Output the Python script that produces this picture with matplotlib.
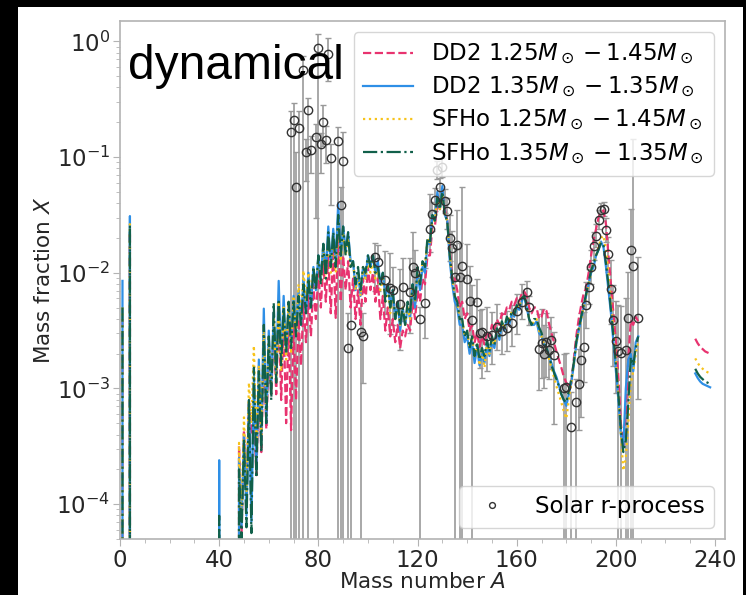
import numpy as np
import matplotlib.pyplot as plt
from matplotlib.patches import Rectangle
from matplotlib.ticker import MultipleLocator, LogLocator

# ---- model yields (log10 of mass fraction) ----
# light nuclei: A = 1, 4, 40 (None = no yield)
light_A = [1, 4, 40]
dd2_125_light = [-2.40, -1.65, None]
dd2_135_light = [-2.07, -1.51, -3.62]
sfho_125_light = [-2.30, -1.58, None]
sfho_135_light = [-2.30, -1.59, -4.10]

# A = 48 ... 209
dd2_125_main = [
    -3.50, -4.30, -3.36, -4.00, -3.10, -3.40, -3.20, -3.75, -2.95, -3.55,
    -2.60, -3.35, -2.70, -3.05, -2.45, -3.05, -2.30, -3.10, -2.40, -3.30,
    -2.40, -3.36, -2.45, -3.10, -2.40, -2.80, -2.25, -2.60, -2.20, -2.55,
    -2.10, -2.40, -2.00, -2.30, -1.90, -2.25, -1.85, -2.35, -1.80, -2.39,
    -1.65, -2.25, -1.85, -2.15, -1.90, -2.30, -2.05, -2.40, -2.15, -2.45,
    -2.05, -2.25, -1.95, -2.15, -2.00, -2.25, -2.05, -2.40, -2.20, -2.50,
    -2.30, -2.55, -2.40, -2.60, -2.45, -2.65, -2.50, -2.55, -2.45, -2.50,
    -2.25, -2.40, -2.15, -2.25, -2.05, -2.10, -1.85, -1.85, -1.60, -1.60,
    -1.40, -1.45, -1.30, -1.45, -1.55, -1.80, -2.05, -2.05, -2.15, -2.30,
    -2.25, -2.40, -2.35, -2.50, -2.45, -2.60, -2.52, -2.64, -2.55, -2.62,
    -2.50, -2.55, -2.45, -2.50, -2.40, -2.45, -2.35, -2.38, -2.30, -2.32,
    -2.25, -2.28, -2.22, -2.25, -2.18, -2.16, -2.20, -2.30, -2.35, -2.30,
    -2.30, -2.40, -2.38, -2.31, -2.33, -2.44, -2.52, -2.60, -2.68, -2.75,
    -2.82, -2.90, -2.95, -2.98, -2.96, -2.75, -2.55, -2.40, -2.28, -2.18,
    -2.13, -2.00, -1.85, -1.72, -1.62, -1.52, -1.48, -1.46, -1.58, -1.85,
    -2.10, -2.35, -2.60, -2.90, -3.30, -3.50, -3.20, -2.75, -2.41, -2.45,
    -2.38, -2.42,
]
dd2_135_main = [
    -3.60, -4.20, -3.40, -4.10, -3.10, -4.15, -2.90, -3.70, -2.75, -3.45,
    -2.31, -3.30, -2.50, -3.00, -2.35, -2.90, -2.07, -2.75, -2.20, -2.70,
    -2.30, -2.60, -2.20, -2.50, -2.15, -2.45, -2.05, -2.35, -2.00, -2.30,
    -1.95, -2.15, -1.85, -2.05, -1.75, -2.00, -1.60, -1.95, -1.62, -1.90,
    -1.40, -1.85, -1.60, -1.80, -1.65, -1.90, -1.90, -2.15, -2.00, -2.20,
    -1.95, -2.05, -1.85, -1.95, -1.85, -2.00, -1.90, -2.10, -2.00, -2.20,
    -2.10, -2.30, -2.15, -2.40, -2.25, -2.50, -2.30, -2.45, -2.30, -2.40,
    -2.10, -2.30, -2.00, -2.15, -1.95, -2.00, -1.75, -1.75, -1.50, -1.55,
    -1.30, -1.45, -1.25, -1.50, -1.55, -1.90, -2.10, -2.25, -2.30, -2.45,
    -2.45, -2.60, -2.55, -2.70, -2.60, -2.78, -2.65, -2.80, -2.70, -2.78,
    -2.62, -2.72, -2.60, -2.65, -2.50, -2.58, -2.45, -2.50, -2.40, -2.45,
    -2.35, -2.38, -2.30, -2.32, -2.25, -2.20, -2.30, -2.40, -2.45, -2.45,
    -2.42, -2.52, -2.55, -2.62, -2.65, -2.72, -2.78, -2.85, -2.90, -2.97,
    -3.05, -3.10, -3.15, -3.05, -2.95, -2.80, -2.62, -2.50, -2.40, -2.30,
    -2.20, -2.10, -2.00, -1.95, -1.85, -1.80, -1.73, -1.78, -1.95, -2.15,
    -2.35, -2.60, -2.85, -3.10, -3.40, -3.50, -3.00, -2.75, -2.70, -2.85,
    -2.60, -2.55,
]
sfho_125_main = [
    -3.47, -4.10, -3.25, -3.90, -2.95, -3.30, -2.63, -3.50, -2.80, -3.40,
    -2.45, -3.20, -2.55, -3.00, -2.40, -2.95, -2.25, -2.85, -2.30, -2.75,
    -2.25, -2.70, -2.20, -2.55, -2.10, -2.40, -1.98, -2.25, -2.00, -2.20,
    -1.95, -2.15, -1.85, -2.10, -1.80, -2.05, -1.70, -2.00, -1.70, -2.00,
    -1.55, -1.90, -1.65, -1.85, -1.70, -1.95, -1.90, -2.15, -2.00, -2.20,
    -1.95, -2.05, -1.90, -2.00, -1.90, -2.05, -1.95, -2.15, -2.05, -2.25,
    -2.15, -2.35, -2.20, -2.40, -2.30, -2.45, -2.30, -2.45, -2.30, -2.40,
    -2.10, -2.25, -2.00, -2.10, -1.90, -1.95, -1.70, -1.75, -1.55, -1.55,
    -1.35, -1.45, -1.32, -1.50, -1.55, -1.85, -2.05, -2.20, -2.25, -2.40,
    -2.40, -2.55, -2.50, -2.65, -2.55, -2.72, -2.62, -2.80, -2.68, -2.82,
    -2.60, -2.70, -2.58, -2.62, -2.50, -2.55, -2.42, -2.48, -2.38, -2.42,
    -2.33, -2.36, -2.28, -2.30, -2.22, -2.20, -2.28, -2.40, -2.45, -2.42,
    -2.40, -2.50, -2.55, -2.62, -2.66, -2.74, -2.82, -2.90, -2.98, -3.05,
    -3.12, -3.20, -3.26, -3.10, -2.95, -2.80, -2.62, -2.50, -2.40, -2.30,
    -2.20, -2.10, -2.00, -1.93, -1.85, -1.78, -1.70, -1.68, -1.80, -2.00,
    -2.25, -2.50, -2.75, -3.05, -3.40, -3.71, -3.60, -3.30, -2.95, -2.85,
    -2.70, -2.60,
]
sfho_135_main = [
    -3.70, -4.30, -3.45, -4.20, -3.10, -4.25, -2.82, -3.77, -2.85, -3.55,
    -2.45, -3.30, -2.55, -3.10, -2.26, -2.95, -2.25, -2.80, -2.30, -2.70,
    -2.25, -2.65, -2.25, -2.55, -2.20, -2.45, -2.10, -2.35, -2.05, -2.30,
    -1.95, -2.15, -1.85, -2.10, -1.75, -2.05, -1.65, -1.95, -1.65, -1.95,
    -1.50, -1.85, -1.60, -1.85, -1.65, -1.95, -1.90, -2.10, -1.95, -2.15,
    -1.95, -2.00, -1.85, -1.95, -1.85, -2.00, -1.95, -2.10, -2.00, -2.25,
    -2.10, -2.30, -2.15, -2.40, -2.25, -2.45, -2.30, -2.45, -2.25, -2.35,
    -2.10, -2.25, -1.95, -2.10, -1.90, -1.95, -1.70, -1.75, -1.50, -1.55,
    -1.35, -1.45, -1.30, -1.50, -1.55, -1.85, -2.05, -2.20, -2.25, -2.40,
    -2.40, -2.55, -2.50, -2.65, -2.55, -2.72, -2.60, -2.75, -2.65, -2.72,
    -2.58, -2.68, -2.55, -2.62, -2.48, -2.55, -2.42, -2.48, -2.38, -2.42,
    -2.33, -2.36, -2.28, -2.30, -2.22, -2.20, -2.28, -2.40, -2.45, -2.40,
    -2.40, -2.47, -2.52, -2.60, -2.65, -2.72, -2.80, -2.86, -2.92, -2.98,
    -3.05, -3.10, -3.12, -3.02, -2.92, -2.78, -2.60, -2.48, -2.38, -2.28,
    -2.18, -2.08, -1.98, -1.92, -1.85, -1.80, -1.74, -1.76, -1.92, -2.10,
    -2.32, -2.55, -2.80, -3.05, -3.35, -3.55, -3.45, -3.13, -2.73, -2.80,
    -2.65, -2.55,
]

# actinides A = 232 ... 238
actinide_A = [232, 233, 234, 235, 236, 237, 238]
dd2_125_act = [-2.57, -2.61, -2.64, -2.66, -2.68, -2.69, -2.70]
dd2_135_act = [-2.87, -2.91, -2.94, -2.96, -2.97, -2.98, -2.99]
sfho_125_act = [-2.74, -2.78, -2.81, -2.83, -2.85, -2.86, -2.87]
sfho_135_act = [-2.83, -2.87, -2.90, -2.92, -2.94, -2.95, -2.96]

# ---- solar r-process residuals ----
solar_A = [69, 70, 71, 72, 74, 75, 76, 77, 79, 80, 81, 82, 83, 84, 85, 88, 89, 90,
           92, 93, 97, 98, 103, 104, 107, 109, 110, 113, 114, 117, 118, 119, 121,
           123, 125, 126, 127, 128, 129, 130, 131, 132, 133, 134, 135, 136, 137,
           138, 140, 141, 142, 144, 145, 146, 148, 150, 152, 154, 156, 158, 160,
           162, 164, 165, 169, 170, 171, 172, 173, 174, 175, 179, 180, 182, 184,
           185, 186, 187, 188, 189, 190, 191, 192, 193, 194, 195, 196, 197, 198,
           199, 200, 201, 202, 204, 205, 206, 207, 209]
solar_logX = [-0.78, -0.68, -1.26, -0.75, -0.25, -0.96, -0.59, -0.94, -0.83, -0.06,
              -0.89, -0.70, -0.85, -0.11, -1.01, -0.86, -1.41, -1.03,
              -2.65, -2.45, -2.51, -2.55, -1.86, -1.91, -2.06, -2.13, -2.15, -2.27,
              -2.12, -2.17, -1.95, -2.00, -2.40,
              -2.26, -1.62, -1.49, -1.37, -1.11, -1.26, -1.09, -1.38, -1.47, -1.70,
              -1.79, -2.04, -1.76, -2.04,
              -1.94, -2.05, -2.24, -2.41, -2.25, -2.52, -2.51, -2.55, -2.54, -2.47,
              -2.50, -2.48, -2.43, -2.33,
              -2.25, -2.17, -2.30, -2.66, -2.61, -2.70, -2.60, -2.67, -2.58, -2.71,
              -3.00, -2.99, -3.33, -3.12,
              -2.96, -2.75, -2.64, -2.28, -2.12, -1.95, -1.77, -1.68, -1.54, -1.46,
              -1.45, -1.63, -1.84, -2.14,
              -2.41, -2.59, -2.68, -2.69, -2.67, -2.39, -1.80, -1.94, -2.39]
inf = np.inf
solar_err_up = [0.18, 0.15, 0.30, 0.15, 0.12, 0.12, 0.10, 0.12, 0.12, 0.12,
                0.10, 0.15, 0.12, 0.14, 0.12, 0.12, 0.15, 0.25,
                0.30, 0.30, 0.25, 0.20, 0.12, 0.15, 0.25, 0.30, 0.20, 0.30,
                0.25, 0.30, 0.30, 0.20, 0.10,
                0.30, 0.30, 0.10, 0.10, 0.08, 0.08, 0.08, 0.10, 0.12, 0.20,
                0.15, 0.25, 0.30, 0.30,
                0.68, 0.30, 0.30, 0.30, 0.20, 0.20, 0.20, 0.25, 0.20, 0.20,
                0.15, 0.15, 0.15, 0.15,
                0.15, 0.10, 0.10, 0.30, 0.30, 0.25, 0.25, 0.20, 0.20, 0.20,
                0.30, 0.30, 0.30, 0.20,
                0.30, 0.40, 0.30, 0.20, 0.15, 0.15, 0.12, 0.10, 0.08, 0.06,
                0.06, 0.10, 0.15, 0.25,
                0.30, 0.35, 0.40, 0.40, 0.45, 0.40, 0.35, 1.10, 0.53]
solar_err_lo = [inf, inf, inf, inf, inf, 0.25, inf, 0.20, 0.70, inf,
                0.25, 0.20, 0.20, 0.23, 0.40, inf, inf, inf,
                inf, inf, inf, 0.40, 0.30, 0.25, 0.30, 0.40, 0.30, 0.40,
                0.30, 0.35, 0.30, 0.20, inf,
                0.30, 0.20, 0.15, 0.10, 0.08, 0.08, 0.08, 0.10, 0.15, 0.20,
                0.25, inf, 0.30, inf,
                inf, 0.30, 0.30, inf, 0.30, 0.30, 0.40, 0.30, 0.25, 0.20,
                0.20, 0.20, 0.20, 0.20,
                0.15, 0.10, 0.15, 0.35, 0.30, 0.30, 0.30, 0.25, 0.25, 0.60,
                inf, inf, inf, inf,
                0.40, 0.50, 0.30, 0.20, 0.15, 0.15, 0.12, 0.10, 0.08, 0.06,
                0.06, 0.10, 0.15, 0.30,
                0.40, 0.45, inf, inf, inf, inf, inf, inf, 0.70]


def build_series(light, main, act):
    # full A grid: zero where nothing is produced, gap between 210 and 231
    A = np.arange(1, 239)
    X = np.zeros(len(A))
    X[(A >= 210) & (A < 232)] = np.nan
    for a, v in zip(light_A, light):
        if v is not None:
            X[a - 1] = 10 ** v
    X[47:209] = 10 ** np.array(main)
    for a, v in zip(actinide_A, act):
        X[a - 1] = 10 ** v
    return A, X


series = [
    ("DD2 $1.25M_\\odot-1.45M_\\odot$", dd2_125_light, dd2_125_main, dd2_125_act, '#e8336f', '--'),
    ("DD2 $1.35M_\\odot-1.35M_\\odot$", dd2_135_light, dd2_135_main, dd2_135_act, '#2e8fe6', '-'),
    ("SFHo $1.25M_\\odot-1.45M_\\odot$", sfho_125_light, sfho_125_main, sfho_125_act, '#f7c31b', ':'),
    ("SFHo $1.35M_\\odot-1.35M_\\odot$", sfho_135_light, sfho_135_main, sfho_135_act, '#11604a', '-.'),
]

FS = 16.5

fig = plt.figure(figsize=(7.46, 5.95), dpi=100, facecolor='black')
fig.patches.append(Rectangle((18 / 746, 0), 725 / 746, 588 / 595,
                             transform=fig.transFigure, facecolor='white',
                             edgecolor='none', zorder=-10))
ax = fig.add_axes([120 / 746, 56 / 595, 605 / 746, 518 / 595])
ax.set_zorder(1)

# solar r-process with error bars
sx = 10 ** np.array(solar_logX)
s_up = sx * (10 ** np.array(solar_err_up) - 1)
s_lo = sx * (1 - 10 ** (-np.array(solar_err_lo)))
ax.errorbar(solar_A, sx, yerr=[s_lo, s_up], fmt='none', ecolor='#999999',
            elinewidth=1.2, capsize=2.5, capthick=1.0, zorder=1)

handles = []
for label, light, main, act, color, ls in series:
    A, X = build_series(light, main, act)
    h, = ax.plot(A, X, color=color, ls=ls, lw=1.6, label=label, zorder=2)
    handles.append(h)

solar_h, = ax.plot(solar_A, sx, 'o', mfc='none', mec='#333333', ms=6, mew=1.0,
                   label='Solar r-process', zorder=3)

ax.set_yscale('log')
ax.set_xlim(0, 244)
ax.set_ylim(5e-5, 1.5)
ax.set_xticks([0, 40, 80, 120, 160, 200, 240])
ax.xaxis.set_minor_locator(MultipleLocator(10))
ax.yaxis.set_major_locator(LogLocator(base=10, numticks=10))
ax.yaxis.set_minor_locator(LogLocator(base=10, subs=np.arange(2, 10), numticks=20))

for sp in ax.spines.values():
    sp.set_color('#b3b3b3')
    sp.set_linewidth(1.2)
ax.tick_params(which='both', colors='#b3b3b3', labelcolor='#262626', labelsize=FS)
ax.tick_params(which='major', length=5, pad=2)
ax.tick_params(which='minor', length=3)

ax.set_xlabel('Mass number $A$', fontsize=15.5, color='#262626', labelpad=0)
ax.set_ylabel('Mass fraction $X$', fontsize=15.5, color='#262626', labelpad=2)

ax.text(0.013, 0.888, 'dynamical', transform=ax.transAxes, fontsize=34.5,
        family='Liberation Sans', color='black', va='baseline', ha='left', zorder=4)

leg1 = ax.legend(handles=handles, loc='upper right', fontsize=FS, handlelength=2.2,
                 labelspacing=0.35, edgecolor='#cccccc')
ax.add_artist(leg1)
ax.legend(handles=[solar_h], loc='lower right', fontsize=FS, handlelength=2.1,
          markerscale=0.7, edgecolor='#cccccc')

fig.savefig('out.png', dpi=100, facecolor='black')
